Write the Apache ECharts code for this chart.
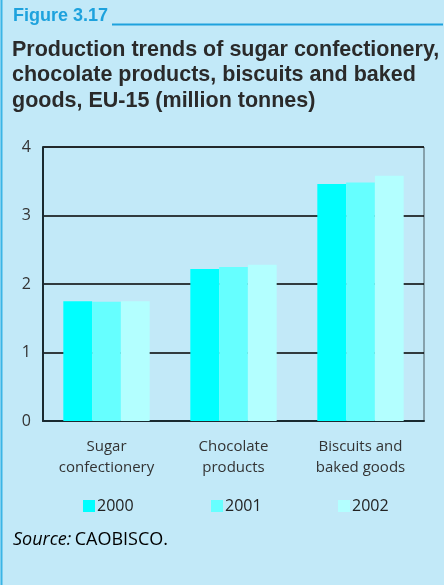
<!DOCTYPE html>
<html>
<head>
<meta charset="utf-8">
<script src="https://cdn.jsdelivr.net/npm/echarts@6/dist/echarts.min.js"></script>
<style>
html,body{margin:0;padding:0;background:#c2e9f8;}
#chart{width:444px;height:585px;}
</style>
</head>
<body>
<div id="chart"></div>
<script>
const categories = ['Sugar\nconfectionery', 'Chocolate\nproducts', 'Biscuits and\nbaked goods'];
const years = ['2000', '2001', '2002'];
const values2000 = [1.75, 2.22, 3.46];
const values2001 = [1.74, 2.25, 3.48];
const values2002 = [1.75, 2.28, 3.58];
const yTicks = [0, 1, 2, 3, 4];
const colors = ['#00ffff', '#66ffff', '#b3ffff'];

const chart = echarts.init(document.getElementById('chart'));
const seriesData = [values2000, values2001, values2002];
const legendLefts = [83, 211, 338];

chart.setOption({
  backgroundColor: '#c2e9f8',
  animation: false,
  grid: {left: 43, right: 20, top: 147, bottom: 164, show: true, borderColor: '#4a5a60', borderWidth: 1, backgroundColor: 'transparent'},
  legend: years.map((y, i) => ({
    data: [y], left: legendLefts[i], top: 498, padding: 0, itemWidth: 12, itemHeight: 12, itemGap: 0,
    icon: 'rect', textStyle: {fontFamily: 'Open Sans', fontSize: 16, color: '#222', padding: [0, 0, 0, -3]}
  })),
  xAxis: {
    type: 'category', data: categories,
    axisLine: {show: true, lineStyle: {color: '#1a2a30', width: 2}},
    axisTick: {show: false},
    axisLabel: {fontFamily: 'Open Sans', fontSize: 15, color: '#333', lineHeight: 21, margin: 15, interval: 0}
  },
  yAxis: {
    type: 'value', min: 0, max: 4, interval: 1,
    axisLine: {show: true, lineStyle: {color: '#1a2a30', width: 2}},
    axisTick: {show: false},
    axisLabel: {fontFamily: 'Open Sans', fontSize: 16, color: '#333', margin: 12,
      formatter: v => yTicks.includes(v) ? String(v) : ''},
    splitLine: {show: true, lineStyle: {color: '#000', width: 1.5}}
  },
  series: years.map((y, i) => ({
    name: y, type: 'bar', data: seriesData[i],
    itemStyle: {color: colors[i]},
    barGap: '0%', barCategoryGap: '32%'
  })),
  graphic: [
    {type: 'rect', shape: {x: 0.5, y: 0, width: 2, height: 585}, style: {fill: '#3bb5e6'}, z: 10},
    {type: 'rect', shape: {x: 112, y: 23.5, width: 331, height: 2}, style: {fill: '#1ea2dd'}},
    {type: 'text', left: 13, top: 7, style: {text: 'Figure 3.17', font: 'bold 18px "Liberation Sans", Arial', fill: '#1ea2dd'}},
    {type: 'text', left: 12, top: 37, style: {text: 'Production trends of sugar confectionery,\nchocolate products, biscuits and baked\ngoods, EU-15 (million tonnes)', font: 'bold 21.5px "Liberation Sans", Arial', fill: '#2a2a2a', lineHeight: 25.5}},
    {type: 'text', left: 13, top: 531, style: {
      text: '{i|Source:} {n|CAOBISCO.}',
      rich: {i: {fontFamily: 'Open Sans', fontStyle: 'italic', fontSize: 18, color: '#333'}, n: {fontFamily: 'Open Sans', fontSize: 18, color: '#333'}}
    }}
  ]
});
</script>
</body>
</html>
